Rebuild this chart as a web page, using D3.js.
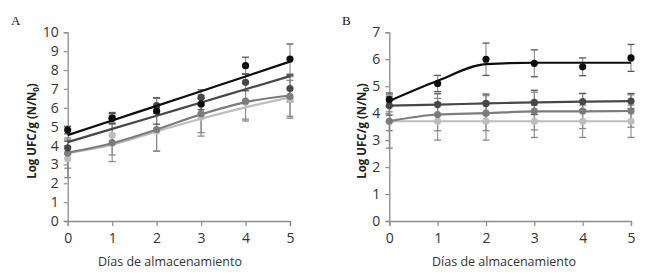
<!DOCTYPE html>
<html><head><meta charset="utf-8">
<script src="https://cdn.jsdelivr.net/npm/d3@7"></script>
<style>body{margin:0;background:#fff}svg{display:block}</style>
</head><body>
<svg id="c" width="650" height="274"></svg>
<script>
const days = [0, 1, 2, 3, 4, 5];
const seriesNames = ["s1", "s2", "s3", "s4"];
const seriesColors = ["#0d0d0d", "#474747", "#7c7c7c", "#bdbdbd"];

// Panel A
const aTicks = [0,1,2,3,4,5,6,7,8,9,10];
const aPts1 = [4.82, 5.44, 5.83, 6.2, 8.23, 8.58];
const aErr1 = [0.2, 0.25, 0.7, 0.3, 0.45, 0.8];
const aFit1 = [4.55, 5.33, 6.1, 6.88, 7.66, 8.45];
const aPts2 = [3.88, 5.45, 6.12, 6.55, 7.35, 7.02];
const aErr2 = [0.35, 0.3, 0.4, 0.4, 0.45, 0.7];
const aFit2 = [4.18, 4.88, 5.58, 6.28, 6.98, 7.68];
const aPts3 = [3.6, 4.15, 4.85, 5.68, 6.35, 6.6];
const aErr3 = [0.8, 1.0, 1.15, 1.0, 0.95, 1.05];
const aFit3 = [3.62, 4.12, 4.85, 5.65, 6.3, 6.65];
const aPts4 = [3.3, 4.55, 4.75, 5.5, 6.3, 6.45];
const aErr4 = [1.0, 1.05, 1.05, 1.0, 1.0, 1.0];
const aFit4 = [3.6, 4.05, 4.75, 5.42, 6.02, 6.55];

// Panel B
const bTicks = [0,1,2,3,4,5,6,7];
const bPts1 = [4.5, 5.1, 6.0, 5.85, 5.72, 6.05];
const bErr1 = [0.25, 0.3, 0.6, 0.5, 0.33, 0.5];
const bFit1 = [4.45, 5.2, 5.82, 5.87, 5.87, 5.87];
const bPts2 = [4.28, 4.32, 4.36, 4.4, 4.43, 4.45];
const bErr2 = [0.35, 0.4, 0.35, 0.45, 0.3, 0.28];
const bFit2 = [4.28, 4.32, 4.36, 4.4, 4.43, 4.45];
const bPts3 = [3.7, 3.95, 4.0, 4.08, 4.08, 4.08];
const bErr3 = [0.35, 0.6, 0.65, 0.7, 0.65, 0.6];
const bFit3 = [3.7, 3.95, 4.0, 4.07, 4.07, 4.08];
const bPts4 = [3.7, 3.7, 3.7, 3.7, 3.7, 3.7];
const bErr4 = [1.0, 0.7, 0.7, 0.6, 0.6, 0.6];
const bFit4 = [3.7, 3.7, 3.7, 3.7, 3.7, 3.7];

const xTitle = "Días de almacenamiento";

const svg = d3.select("#c");

function panel(opt) {
  const x = d3.scaleLinear().domain([0, 5]).range([opt.x0, opt.x1]);
  const y = d3.scaleLinear().domain([0, opt.ymax]).range([221, 32.3]);
  const g = svg.append("g");

  const ya = g.append("g").attr("transform", `translate(${opt.x0},0)`)
    .call(d3.axisLeft(y).tickValues(opt.ticks).tickSize(4).tickPadding(5).tickFormat(d3.format("d")));
  const xa = g.append("g").attr("transform", `translate(0,221)`)
    .call(d3.axisBottom(x).tickValues(days).tickSize(5).tickPadding(7).tickFormat(d3.format("d")));
  [ya, xa].forEach(a => {
    a.select(".domain").attr("stroke", "#8c8c8c").attr("stroke-width", 1.3);
    a.selectAll(".tick line").attr("stroke", "#8c8c8c").attr("stroke-width", 1.2);
    a.selectAll(".tick text").attr("fill", "#333").attr("font-family", "Open Sans, sans-serif").attr("font-size", 14);
  });

  const line = d3.line().x((d, i) => x(days[i])).y(d => y(d)).curve(d3.curveMonotoneX);
  for (let k = opt.series.length - 1; k >= 0; k--) {
    const s = opt.series[k];
    const eg = g.append("g");
    s.pts.forEach((v, i) => {
      const cx = x(days[i]);
      eg.append("line").attr("x1", cx).attr("x2", cx).attr("y1", y(v - s.err[i])).attr("y2", y(v + s.err[i]))
        .attr("stroke", "#8a8a8a").attr("stroke-width", 1.1);
      [v - s.err[i], v + s.err[i]].forEach(e => {
        eg.append("line").attr("x1", cx - 3.5).attr("x2", cx + 3.5).attr("y1", y(e)).attr("y2", y(e))
          .attr("stroke", k < 2 ? "#555" : "#888").attr("stroke-width", 1.3);
      });
    });
  }
  for (let k = opt.series.length - 1; k >= 0; k--) {
    const s = opt.series[k];
    const col = seriesColors[k];
    g.append("path").datum(s.fit).attr("d", line).attr("fill", "none").attr("stroke", col).attr("stroke-width", 2.2);
    g.selectAll(null).data(s.pts).enter().append("circle")
      .attr("cx", (d, i) => x(days[i])).attr("cy", d => y(d)).attr("r", 3.6).attr("fill", col);
  }

  g.append("text").attr("x", opt.lx).attr("y", 25).attr("font-family", "Liberation Serif, serif")
    .attr("font-size", 13).attr("fill", "#111").text(opt.label);
  g.append("text").attr("x", opt.cx).attr("y", 266).attr("text-anchor", "middle")
    .attr("font-family", "Open Sans, sans-serif").attr("font-size", 12.5).attr("fill", "#333").text(xTitle);
  const yt = g.append("text").attr("transform", `translate(${opt.tx},131) rotate(-90)`).attr("text-anchor", "middle")
    .attr("font-family", "Open Sans, sans-serif").attr("font-size", 11.5).attr("font-weight", "bold").attr("fill", "#222");
  yt.append("tspan").text("Log UFC/g (N/N");
  yt.append("tspan").attr("font-size", 8).attr("dy", 3).text("0");
  yt.append("tspan").attr("dy", -3).text(")");
}

panel({x0: 67.7, x1: 290, ymax: 10, ticks: aTicks, label: "A", lx: 11, tx: 36, cx: 170,
  series: [
    {pts: aPts1, err: aErr1, fit: aFit1},
    {pts: aPts2, err: aErr2, fit: aFit2},
    {pts: aPts3, err: aErr3, fit: aFit3},
    {pts: aPts4, err: aErr4, fit: aFit4}]});
panel({x0: 389.3, x1: 631, ymax: 7, ticks: bTicks, label: "B", lx: 342, tx: 366, cx: 504,
  series: [
    {pts: bPts1, err: bErr1, fit: bFit1},
    {pts: bPts2, err: bErr2, fit: bFit2},
    {pts: bPts3, err: bErr3, fit: bFit3},
    {pts: bPts4, err: bErr4, fit: bFit4}]});
</script>
</body></html>
